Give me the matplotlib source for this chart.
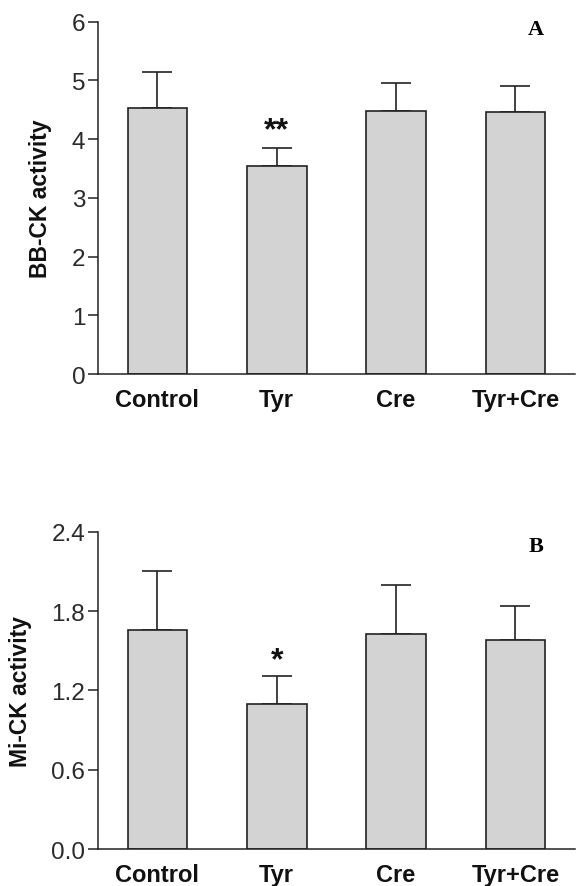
import numpy as np
import matplotlib
matplotlib.use("Agg")
import matplotlib.pyplot as plt

plt.rcParams["font.family"] = ["Liberation Sans", "DejaVu Sans"]

groups = ["Control", "Tyr", "Cre", "Tyr+Cre"]

bb_mean = [4.53, 3.54, 4.48, 4.46]
bb_sem = [0.61, 0.31, 0.48, 0.44]
bb_sig = ["", "**", "", ""]

mi_mean = [1.66, 1.10, 1.63, 1.58]
mi_sem = [0.44, 0.21, 0.37, 0.26]
mi_sig = ["", "*", "", ""]

BAR_FACE = "#d3d3d3"
EDGE = "#222222"


def panel(ax, means, sems, sig, ylabel, yticks, ticklabels, tag, sig_y):
    x = np.arange(len(groups))
    ax.bar(x, means, width=0.5, color=BAR_FACE, edgecolor=EDGE,
           linewidth=1.2, zorder=2)
    ax.errorbar(x, means, yerr=[np.zeros(len(means)), sems], fmt="none",
                ecolor=EDGE, elinewidth=1.2, capsize=11, capthick=1.2,
                zorder=1)
    for xi, s, y in zip(x, sig, sig_y):
        if s:
            ax.text(xi, y, s, ha="center", va="center", fontsize=23,
                    fontweight="bold", color="#111111")

    ax.set_xlim(-0.5, len(groups) - 0.5)
    ax.set_ylim(yticks[0], yticks[-1])
    ax.set_yticks(yticks)
    ax.set_yticklabels(ticklabels, fontsize=17.5, color="#2a2a2a")
    ax.set_xticks(x)
    ax.set_xticklabels(groups, fontsize=17, fontweight="bold",
                       color="#111111")
    ax.tick_params(axis="x", length=0, pad=10)
    ax.tick_params(axis="y", length=7, width=1.1, pad=2, color=EDGE)
    for side in ("top", "right"):
        ax.spines[side].set_visible(False)
    for side in ("left", "bottom"):
        ax.spines[side].set_linewidth(1.1)
        ax.spines[side].set_color(EDGE)
    ax.set_ylabel(ylabel, fontsize=16.5, fontweight="bold", labelpad=14,
                  color="#111111")
    ax.text(0.918, 0.978 if tag == "A" else 0.955, tag,
            transform=ax.transAxes, ha="center", va="center",
            fontsize=16, fontweight="bold", family="Liberation Serif")


fig = plt.figure(figsize=(5.76, 8.87), dpi=100)
ax_a = fig.add_axes([0.1696, 0.5772, 0.8287, 0.3972])
ax_b = fig.add_axes([0.1696, 0.0417, 0.8287, 0.3577])

panel(ax_a, bb_mean, bb_sem, bb_sig, "BB-CK activity",
      [0, 1, 2, 3, 4, 5, 6], ["0", "1", "2", "3", "4", "5", "6"], "A",
      [0, 4.15, 0, 0])
panel(ax_b, mi_mean, mi_sem, mi_sig, "Mi-CK activity",
      [0.0, 0.6, 1.2, 1.8, 2.4], ["0.0", "0.6", "1.2", "1.8", "2.4"], "B",
      [0, 1.43, 0, 0])

fig.savefig("out.png", dpi=100)
